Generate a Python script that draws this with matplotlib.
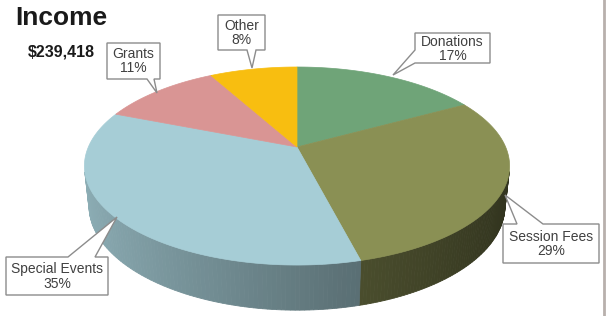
import numpy as np
import matplotlib.pyplot as plt
from matplotlib.patches import Polygon

plt.rcParams['font.family'] = ['Liberation Sans', 'DejaVu Sans']

# data
labels = ["Donations", "Session Fees", "Special Events", "Grants", "Other"]
shares = [17, 29, 35, 11, 8]
colors = ["#6FA478", "#8A9054", "#A6CDD6", "#D99594", "#F8BE10"]
total = "$239,418"

W, H = 607, 316
fig = plt.figure(figsize=(W / 100, H / 100), dpi=100)
ax = fig.add_axes([0, 0, 1, 1])
ax.set_xlim(0, W)
ax.set_ylim(H, 0)
ax.axis('off')

# simple perspective camera for the 3d pie
cx, cy = 297, 147
f, d = 966, 4.63
tilt = np.radians(27.2)
c, s = np.cos(tilt), np.sin(tilt)
depth = 0.215


def project(phi, r=1.0, top=True):
    X = r * np.sin(phi)
    Z = r * np.cos(phi)
    Y = 0.0 if top else -depth
    yp = Y * c + Z * s
    zp = -Y * s + Z * c
    return cx + f * X / (d + zp), cy - f * yp / (d + zp)


def shade(col, k):
    rgb = np.array(plt.matplotlib.colors.to_rgb(col))
    return tuple(rgb * k)


fracs = np.array(shares) / sum(shares)
edges = np.concatenate([[0], np.cumsum(fracs)]) * 2 * np.pi
z_vis = -1 / (d * c)

# sides first
for i in range(len(shares)):
    phis = np.linspace(edges[i], edges[i + 1], 120)
    for a, b in zip(phis[:-1], phis[1:]):
        m = 0.5 * (a + b)
        if np.cos(m) > z_vis:
            continue
        k = 0.6 - 0.25 * np.sin(m)
        pts = [project(a), project(b), project(b, top=False), project(a, top=False)]
        col = shade(colors[i], k)
        ax.add_patch(Polygon(pts, closed=True, facecolor=col, edgecolor=col, lw=0.6))

# top face
for i in range(len(shares)):
    phis = np.linspace(edges[i], edges[i + 1], 200)
    xs, ys = project(phis)
    pts = [(cx, cy)] + list(zip(xs, ys))
    ax.add_patch(Polygon(pts, closed=True, facecolor=colors[i], edgecolor=colors[i], lw=0.5))


def callout(text, box, edge, base, tip):
    x0, y0, x1, y1 = box
    if edge == 'bottom':
        pts = [(x0, y0), (x1, y0), (x1, y1), (base[1], y1), tip, (base[0], y1), (x0, y1)]
    elif edge == 'top':
        pts = [(x0, y0), (base[0], y0), tip, (base[1], y0), (x1, y0), (x1, y1), (x0, y1)]
    else:  # left
        pts = [(x0, y0), (x1, y0), (x1, y1), (x0, y1), tip, (x0, base[0])]
        if base[1] < y1:
            pts.insert(4, (x0, base[1]))
    ax.add_patch(Polygon(pts, closed=True, facecolor='white', edgecolor='#8C8C8C', lw=1.0, zorder=5))
    ax.text((x0 + x1) / 2, (y0 + y1) / 2 + 0.5, text, ha='center', va='center',
            fontsize=10, color='#404040', linespacing=1.0, zorder=6)


pct = [f"{p}%" for p in shares]
callout(labels[0] + "\n" + pct[0], (415, 33, 490, 63), 'left', (50, 63), (393, 75))
callout(labels[1] + "\n" + pct[1], (503, 224, 599, 263), 'top', (517, 543), (505, 195))
callout(labels[2] + "\n" + pct[2], (6, 257, 108, 295), 'top', (68, 95), (117, 217))
callout(labels[3] + "\n" + pct[3], (107, 43, 160, 79), 'bottom', (147, 154), (157, 93))
callout(labels[4] + "\n" + pct[4], (218, 15, 265, 50), 'bottom', (247, 256), (252, 68))

ax.text(15, 18, "Income", fontsize=19, fontweight='bold', color='#1A1A1A', va='center', ha='left')
ax.text(28, 52, total, fontsize=11.5, fontweight='bold', color='#1A1A1A', va='center', ha='left')

# frame edge on the right
ax.plot([604, 604], [0, H], color='#B8B0AC', lw=2)

fig.savefig("out.png", dpi=100)
